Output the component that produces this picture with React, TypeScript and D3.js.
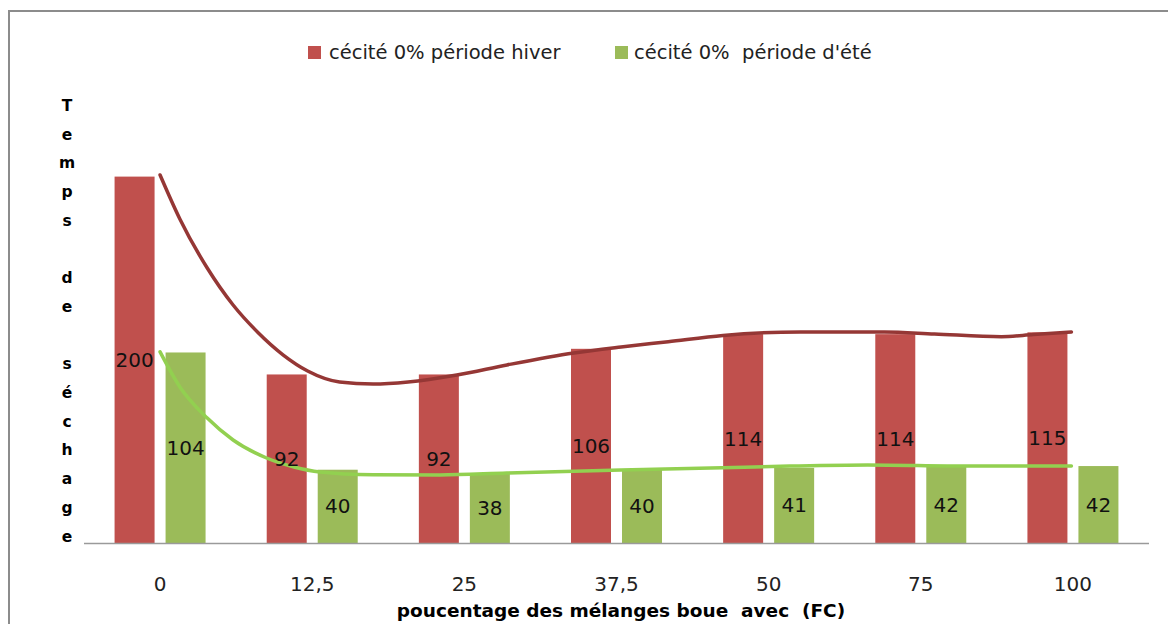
import React from "react";
import * as d3 from "d3";

const categories = ["0", "12,5", "25", "37,5", "50", "75", "100"];
const hiver = [200, 92, 92, 106, 114, 114, 115];
const ete = [104, 40, 38, 40, 41, 42, 42];
const seriesNames = ["cécité 0% période hiver", "cécité 0%  période d'été"];
const yTitle = "Temps de séchage";
const xTitle = "poucentage des mélanges boue  avec  (FC)";

// hand drawn trend curves (position in category steps, value)
const trendHiverPos = [0, 0.13, 0.31, 0.48, 0.64, 0.81, 0.97, 1.18, 1.4, 1.63, 1.95, 2.28, 2.72, 3.03, 3.34, 3.7, 4.21, 4.76, 5.09, 5.53, 5.74, 5.99];
const trendHiverVal = [200.9, 176.9, 150.1, 129.9, 115.2, 102.6, 93.9, 87.9, 86.8, 87.9, 91.7, 97.2, 103.7, 107, 109.9, 113.3, 115.2, 115.2, 114.1, 112.6, 113.8, 115.2];
const trendEtePos = [0, 0.13, 0.31, 0.48, 0.7, 0.88, 1.05, 1.4, 1.84, 2.28, 3.03, 3.62, 4.14, 4.65, 5.31, 5.99];
const trendEteVal = [104.3, 85.2, 68.2, 56.2, 46.4, 41.5, 38.8, 37.3, 37.1, 38.2, 39.8, 40.9, 42, 42.6, 42, 42];

const W = 1168;
const H = 624;
const plot = { left: 84, right: 1149, top: 85, bottom: 543 };

const RED = "#C0504D";
const GREEN = "#9BBB59";
const FONT = "'DejaVu Sans', sans-serif";

export default function App() {
  const x = d3.scaleBand().domain(categories).range([plot.left, plot.right]);
  const y = d3.scaleLinear().domain([0, 250]).range([plot.bottom, plot.top]);
  const barW = 40;
  const gap = 11;

  const first = x(categories[0])! + x.bandwidth() / 2;
  const xc = d3.scaleLinear().domain([0, 1]).range([first, first + x.step()]);

  const trend = (pos: number[], vals: number[]) =>
    d3
      .line<number>()
      .x((p) => xc(p))
      .y((_, i) => y(vals[i]))
      .curve(d3.curveMonotoneX)(pos) || "";

  const letters = yTitle.split("");

  return (
    <svg width={W} height={H} style={{ position: "absolute", left: 0, top: 0, background: "#fff" }}>
      <rect x={0} y={0} width={W} height={H} fill="#fff" />
      <path d={`M9,${H} V11 H${W}`} fill="none" stroke="#8c8c8c" strokeWidth={2} />

      {/* legend */}
      <rect x={308} y={46} width={13} height={13} fill={RED} />
      <text x={329} y={59} fontFamily={FONT} fontSize={19.5} fill="#222" style={{ whiteSpace: "pre" }}>
        {seriesNames[0]}
      </text>
      <rect x={615} y={46} width={13} height={13} fill={GREEN} />
      <text x={634} y={59} fontFamily={FONT} fontSize={19.5} fill="#222" style={{ whiteSpace: "pre" }}>
        {seriesNames[1]}
      </text>

      {/* y title, one letter per line */}
      {letters.map((ch, i) => (
        <text key={i} x={67} y={111 + i * 28.7} textAnchor="middle" fontFamily={FONT} fontWeight="bold" fontSize={15.5} fill="#000">
          {ch.trim()}
        </text>
      ))}

      {/* bars */}
      {categories.map((c, i) => {
        const cx = x(c)! + x.bandwidth() / 2;
        const rx = cx - gap / 2 - barW;
        const gx = cx + gap / 2;
        return (
          <g key={c}>
            <rect x={rx} y={y(hiver[i])} width={barW} height={y(0) - y(hiver[i])} fill={RED} />
            <rect x={gx} y={y(ete[i])} width={barW} height={y(0) - y(ete[i])} fill={GREEN} />
          </g>
        );
      })}

      <line x1={plot.left} x2={plot.right} y1={plot.bottom + 0.5} y2={plot.bottom + 0.5} stroke="#9a9a9a" strokeWidth={1.5} />

      {/* trend curves */}
      <path d={trend(trendHiverPos, trendHiverVal)} fill="none" stroke="#953735" strokeWidth={3.5} strokeLinecap="round" />
      <path d={trend(trendEtePos, trendEteVal)} fill="none" stroke="#92D050" strokeWidth={3.5} strokeLinecap="round" />

      {/* data labels */}
      {categories.map((c, i) => {
        const cx = x(c)! + x.bandwidth() / 2;
        const rx = cx - gap / 2 - barW / 2;
        const gx = cx + gap / 2 + barW / 2;
        return (
          <g key={"l" + c} fontFamily={FONT} fontSize={20} fill="#111" textAnchor="middle">
            <text x={rx} y={(y(hiver[i]) + y(0)) / 2 + 7}>{hiver[i]}</text>
            <text x={gx} y={(y(ete[i]) + y(0)) / 2 + 7}>{ete[i]}</text>
          </g>
        );
      })}

      {/* x tick labels */}
      {categories.map((c) => (
        <text key={"t" + c} x={x(c)! + x.bandwidth() / 2} y={591} textAnchor="middle" fontFamily={FONT} fontSize={20} fill="#222">
          {c}
        </text>
      ))}

      <text x={621} y={617} textAnchor="middle" fontFamily={FONT} fontWeight="bold" fontSize={18.5} fill="#000" style={{ whiteSpace: "pre" }}>
        {xTitle}
      </text>
    </svg>
  );
}
